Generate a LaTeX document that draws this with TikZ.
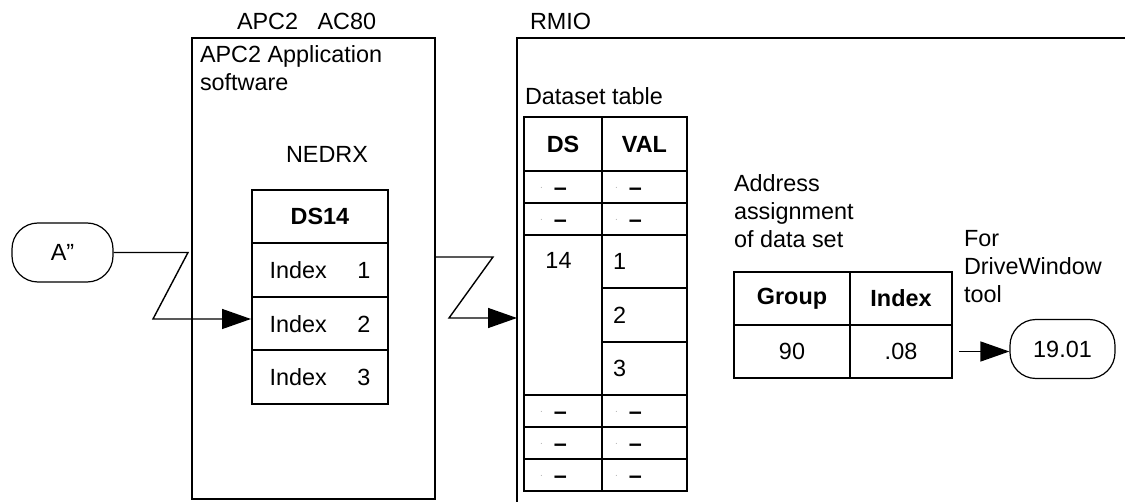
\documentclass[tikz,border=0pt]{standalone}
\usepackage{fontspec}
\setmainfont{Liberation Sans}
\usetikzlibrary{arrows.meta}
\usepackage{xcolor}

\tikzset{
    frame/.style={draw, line width=1pt, inner sep=0pt},
    cell/.style={draw, line width=1pt, inner sep=0pt},
    txt/.style={inner sep=0pt, outer sep=0pt},
    oval/.style={draw, line width=0.6pt, rounded corners=13pt, inner sep=0pt},
    arr/.style={line width=0.7pt, -{Triangle[length=14.5pt,width=10pt]}}
}
\newcommand{\indexrow}[1]{Index\hspace{1.3em}#1}
\newcommand{\blankmark}{\textcolor{black!30}{\raisebox{3.5pt}{\tiny.}}\hspace{5.5pt}{\bfseries --}}

\begin{document}
\begin{tikzpicture}[x=0.5pt, y=-0.5pt, font=\fontsize{11.7}{14}\selectfont]
        \useasboundingbox (0,0) rectangle (1125,502);
        % APC2 side
        \node[txt, anchor=base west] (apctitle) at (237,30) {APC2\ \ \ AC80};
        \node[frame, minimum width=121.5pt, minimum height=230.5pt] (apc) at (313.5,268.5) {};
        \node[txt, anchor=north west, align=left] (apcsw) at (200,46) {APC2 Application\\software};
        \node[txt, anchor=base] (nedrx) at (327,163) {NEDRX};
        % NEDRX block
        \foreach \n/\y/\t in {ds14/216.75/{\bfseries DS14}, idx1/270.25/{\indexrow{1}},
            idx2/323.75/{\indexrow{2}}, idx3/377.25/{\indexrow{3}}}
            \node[cell, minimum width=68pt, minimum height=26.75pt] (\n) at (320,\y) {\t};
        % input value
        \node[oval, minimum width=50.5pt, minimum height=29.5pt] (adbl) at (62.5,252.5) {A”};
        \coordinate (k1) at (188,252.5);
        \coordinate (k2) at (153,319);
        \draw[arr] (adbl.east) -- (k1) -- (k2) -- (k2 -| idx2.west);
        % RMIO side
        \node[txt, anchor=base west] (rmiotitle) at (530,30) {RMIO};
        \coordinate (rmiotr) at (1125,38);
        \coordinate (rmiobl) at (517,502);
        \draw[line width=1pt] (rmiotr) -| (rmiobl);
        \coordinate (k3) at (493,257);
        \coordinate (k4) at (449,318);
        \draw[arr] (k3 -| apc.east) -- (k3) -- (k4) -- (k4 -| rmiobl);
        % dataset table
        \node[txt, anchor=north west] (dstitle) at (525,88) {Dataset table};
        \node[cell, minimum width=39pt, minimum height=27pt] (hds) at (563,144) {\bfseries DS};
        \node[cell, minimum width=42.5pt, minimum height=27pt] (hval) at (644.5,144) {\bfseries VAL};
        % empty rows
        \foreach \y in {187,219,411,443,475} {
            \node[cell, minimum width=39pt, minimum height=16pt] (ds\y) at (563,\y) {};
            \node[cell, minimum width=42.5pt, minimum height=16pt] (val\y) at (644.5,\y) {};
            \node[txt, anchor=base west] (dsm\y) at (540,\y+8.5) {\blankmark};
            \node[txt, anchor=base west] (valm\y) at (615,\y+8.5) {\blankmark};
        }
        % data set 14
        \node[cell, minimum width=39pt, minimum height=80pt] (dsblk) at (563,315) {};
        \node[txt] (dsnum) at (558.5,260) {14};
        \foreach \v/\y in {1/261.67,2/315,3/368.33} {
            \node[cell, minimum width=42.5pt, minimum height=26.67pt] (val\v) at (644.5,\y) {};
            \node[txt, anchor=west] (valnum\v) at (613,\y) {\v};
        }
        % address assignment
        \node[txt, anchor=north west, align=left] (addr) at (734,175) {Address\\assignment\\of data set};
        \node[cell, minimum width=58pt, minimum height=26.5pt] (grp) at (792,298.5) {\bfseries Group};
        \node[cell, minimum width=51pt, minimum height=26.5pt] (idx) at (901,298.5) {\bfseries Index};
        \node[cell, minimum width=58pt, minimum height=26.5pt] (grpv) at (792,351.5) {90};
        \node[cell, minimum width=51pt, minimum height=26.5pt] (idxv) at (901,351.5) {.08};
        % DriveWindow parameter
        \node[txt, anchor=north west, align=left] (dwtool) at (964,230) {For\\DriveWindow\\tool};
        \node[oval, minimum width=52.5pt, minimum height=29.5pt] (dw) at (1062.5,349) {19.01};
        \draw[arr] ([xshift=3pt]idxv.east) -- (idxv.east -| dw.west);
\end{tikzpicture}
\end{document}
